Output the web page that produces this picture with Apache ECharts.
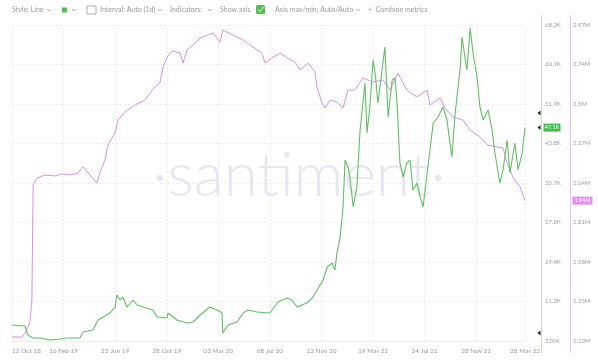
<!DOCTYPE html>
<html><head><meta charset="utf-8">
<script src="https://cdn.jsdelivr.net/npm/echarts@6/dist/echarts.min.js"></script>
<style>html,body{margin:0;padding:0;background:#fff}#c{width:598px;height:362px}</style>
</head><body><div id="c"></div>
<script>
const startDate = '2018-10-12';
const endDate = '2022-03-28';
const tickDays = 127;
const greenTickLabels = ['3204','11.2K','19.4K','27.5K','35.7K','43.8K','51.9K','60.1K','68.2K'];
const purpleTickLabels = ['1.12M','1.35M','1.58M','1.81M','2.04M','2.27M','2.5M','2.74M','2.97M'];
const greenMin = 3204, greenMax = 68204;
const purpleMin = 1118000, purpleMax = 2968000;
const greenMarkerValues = [50100, 3204];

const purpleDates = ['2018-10-12','2018-11-06','2018-11-15','2018-11-25','2018-11-30','2018-12-03','2018-12-13','2019-01-01','2019-01-26','2019-02-12','2019-03-04','2019-03-23','2019-04-05','2019-04-22','2019-05-09','2019-05-17','2019-05-29','2019-06-05','2019-06-23','2019-06-30','2019-07-17','2019-08-11','2019-09-04','2019-09-29','2019-10-11','2019-10-19','2019-10-29','2019-11-10','2019-11-30','2019-12-07','2019-12-17','2020-01-06','2020-01-18','2020-02-19','2020-03-07','2020-03-14','2020-04-08','2020-05-03','2020-05-27','2020-06-18','2020-06-26','2020-07-13','2020-08-02','2020-08-19','2020-09-08','2020-09-20','2020-10-10','2020-10-27','2020-11-01','2020-11-13','2020-11-21','2020-12-03','2020-12-20','2021-01-04','2021-01-16','2021-02-02','2021-02-22','2021-03-19','2021-04-12','2021-04-30','2021-05-19','2021-06-10','2021-07-05','2021-07-30','2021-08-06','2021-08-31','2021-09-12','2021-10-02','2021-10-26','2021-11-13','2021-12-07','2021-12-27','2022-01-18','2022-02-02','2022-02-12','2022-02-26','2022-03-16','2022-03-28'];
const purpleValues = [1.141,1.141,1.171,1.229,1.358,2.031,2.072,2.090,2.084,2.096,2.090,2.101,2.137,2.090,2.043,2.107,2.178,2.265,2.336,2.412,2.459,2.500,2.529,2.605,2.628,2.722,2.781,2.816,2.804,2.745,2.822,2.863,2.892,2.921,2.868,2.939,2.909,2.880,2.839,2.804,2.745,2.775,2.804,2.775,2.751,2.704,2.745,2.693,2.605,2.511,2.482,2.529,2.517,2.482,2.587,2.587,2.658,2.634,2.646,2.587,2.687,2.587,2.546,2.587,2.500,2.541,2.482,2.429,2.412,2.353,2.312,2.265,2.254,2.248,2.160,2.078,2.020,1.940];

const greenDates = ['2018-10-12','2018-11-13','2018-11-20','2018-12-03','2018-12-20','2019-01-14','2019-02-07','2019-02-24','2019-03-28','2019-04-05','2019-04-29','2019-05-12','2019-05-24','2019-06-10','2019-06-23','2019-06-27','2019-07-05','2019-07-12','2019-07-22','2019-08-06','2019-08-16','2019-08-31','2019-09-24','2019-10-04','2019-10-29','2019-10-31','2019-11-22','2019-12-17','2020-01-01','2020-01-18','2020-02-11','2020-02-29','2020-03-12','2020-03-14','2020-03-27','2020-04-18','2020-05-03','2020-05-15','2020-06-06','2020-07-08','2020-07-28','2020-08-19','2020-08-31','2020-09-13','2020-10-07','2020-10-20','2020-11-01','2020-11-16','2020-11-26','2020-12-08','2020-12-15','2020-12-20','2020-12-28','2021-01-04','2021-01-09','2021-01-16','2021-01-21','2021-01-29','2021-02-07','2021-02-15','2021-02-22','2021-02-27','2021-03-04','2021-03-11','2021-03-19','2021-03-24','2021-03-31','2021-04-10','2021-04-17','2021-04-25','2021-05-05','2021-05-12','2021-05-17','2021-05-24','2021-06-01','2021-06-10','2021-06-18','2021-06-25','2021-07-05','2021-07-13','2021-07-20','2021-08-01','2021-08-14','2021-08-26','2021-09-07','2021-09-17','2021-09-24','2021-09-29','2021-10-07','2021-10-19','2021-10-24','2021-10-31','2021-11-05','2021-11-13','2021-11-20','2021-11-30','2021-12-07','2021-12-15','2021-12-27','2022-01-06','2022-01-13','2022-01-25','2022-02-02','2022-02-12','2022-02-19','2022-03-03','2022-03-11','2022-03-21','2022-03-28'];
const greenValues = [6.50,6.29,4.44,3.82,3.82,3.41,3.62,3.82,3.82,5.06,5.47,7.52,8.14,8.96,10.20,12.67,11.64,12.25,10.20,11.64,10.61,10.20,9.58,8.14,7.94,8.96,7.52,6.91,7.11,8.55,10.20,9.58,8.96,4.85,6.50,7.11,8.96,9.58,9.17,8.96,11.23,12.05,11.64,10.20,11.02,12.05,13.69,15.75,18.43,19.25,17.81,21.31,24.60,30.77,40.44,39.00,36.94,30.77,34.88,46.61,52.16,56.27,45.99,51.34,61.00,58.33,52.16,58.95,63.68,49.28,56.89,57.30,52.16,39.82,36.94,39.82,40.44,34.26,35.70,32.83,30.77,39.00,48.05,49.28,51.34,48.66,43.93,41.05,50.10,58.95,65.74,61.62,58.95,67.59,62.45,57.51,51.34,48.66,50.72,46.61,41.88,35.70,38.38,44.55,37.76,43.93,38.38,41.88,47.10];

const DAY = 86400000;
const t0 = Date.parse(startDate + 'T00:00:00Z');
const dayIndex = s => Math.round((Date.parse(s + 'T00:00:00Z') - t0) / DAY);
const MONTHS = ['Jan','Feb','Mar','Apr','May','Jun','Jul','Aug','Sep','Oct','Nov','Dec'];
function fmtDay(d) {
  const dt = new Date(t0 + d * DAY);
  const dd = String(dt.getUTCDate()).padStart(2, '0');
  return dd + ' ' + MONTHS[dt.getUTCMonth()] + ' ' + String(dt.getUTCFullYear()).slice(2);
}
const endDay = dayIndex(endDate);
const greenData = greenDates.map((d, i) => [dayIndex(d), greenValues[i] * 1000]);
const purpleData = purpleDates.map((d, i) => [dayIndex(d), purpleValues[i] * 1e6]);
const greenColor = '#5dc25d', purpleColor = '#d98fe9';
const gInt = (greenMax - greenMin) / 8, pInt = (purpleMax - purpleMin) / 8;

const vGrid = [];
for (let d = 0; d <= endDay; d += tickDays) vGrid.push({xAxis: d});
vGrid.push({xAxis: endDay});
const hGrid = greenTickLabels.map((_, i) => ({yAxis: greenMin + i * gInt}));
const gridStyle = {color: '#ececec', type: [2, 2], width: 1};

const chart = echarts.init(document.getElementById('c'), null, {renderer: 'canvas'});
const txt = {fill: '#9a9a9a', fontSize: 7, fontFamily: 'Lato, sans-serif'};
function chev(x) { return {type: 'polyline', shape: {points: [[x, 9], [x + 2, 11], [x + 4, 9]]}, style: {stroke: '#aaa', lineWidth: 0.8, fill: null}}; }
const option = {
  animation: false,
  backgroundColor: '#fff',
  grid: {left: 12, right: 73, top: 25, bottom: 21, containLabel: false},
  xAxis: {
    type: 'value', min: 0, max: endDay, interval: tickDays,
    axisLine: {show: true, onZero: false, lineStyle: {color: '#eeeeee'}}, axisTick: {show: false},
    splitLine: {show: false},
    axisLabel: {formatter: v => fmtDay(v), color: '#9a9a9a', fontSize: 6.5, fontFamily: 'Lato, sans-serif', margin: 6, showMinLabel: true, showMaxLabel: true, hideOverlap: false, alignMinLabel: 'left'}
  },
  yAxis: [
    {type: 'value', position: 'right', offset: 16, min: greenMin, max: greenMax, interval: gInt,
     axisLine: {show: false}, axisTick: {show: false}, splitLine: {show: false},
     axisLabel: {formatter: v => greenTickLabels[Math.round((v - greenMin) / gInt)], color: '#a0a0a0', fontSize: 6, fontFamily: 'Lato, sans-serif', margin: 4}},
    {type: 'value', position: 'right', offset: 45, min: purpleMin, max: purpleMax, interval: pInt,
     axisLine: {show: false}, axisTick: {show: false}, splitLine: {show: false},
     axisLabel: {formatter: v => purpleTickLabels[Math.round((v - purpleMin) / pInt)], color: '#a0a0a0', fontSize: 6, fontFamily: 'Lato, sans-serif', margin: 3}}
  ],
  series: [
    {type: 'line', yAxisIndex: 1, data: purpleData, showSymbol: false, lineStyle: {color: purpleColor, width: 1}, z: 3},
    {type: 'line', yAxisIndex: 0, data: greenData, showSymbol: false, lineStyle: {color: greenColor, width: 1.1}, z: 4,
     markLine: {silent: true, z: 1, symbol: 'none', label: {show: false}, lineStyle: gridStyle, emphasis: {disabled: true}, animation: false,
       data: vGrid.concat(hGrid)}}
  ],
  graphic: [
    {type: 'text', left: 'center', top: 145, z: 1, style: {text: '\u00B7santiment\u00B7', fontSize: 62, fontFamily: 'Lato, sans-serif', fontWeight: 300, fill: '#e6e7f0'}},
    {type: 'text', x: 12, y: 6, style: Object.assign({text: 'Style: Line'}, txt)},
    chev(47),
    {type: 'rect', shape: {x: 62, y: 7.5, width: 5, height: 5}, style: {fill: '#4fbf4f'}},
    chev(72),
    {type: 'rect', shape: {x: 87, y: 6, width: 9, height: 8}, style: {fill: null, stroke: '#999', lineWidth: 0.8}},
    {type: 'text', x: 100, y: 6, style: Object.assign({text: 'Interval: Auto (1d)'}, txt)},
    chev(158),
    {type: 'text', x: 170, y: 6, style: Object.assign({text: 'Indicators:'}, txt)},
    chev(208),
    {type: 'text', x: 220, y: 6, style: Object.assign({text: 'Show axis'}, txt)},
    {type: 'rect', shape: {x: 256, y: 5, width: 9, height: 9, r: 1.5}, style: {fill: '#4fbf4f'}},
    {type: 'polyline', shape: {points: [[258, 9.5], [260, 11.5], [263.5, 7]]}, style: {stroke: '#fff', lineWidth: 1, fill: null}},
    {type: 'text', x: 275, y: 6, style: Object.assign({text: 'Axis max/min: Auto/Auto'}, txt)},
    chev(356),
    {type: 'text', x: 368, y: 6, style: Object.assign({text: '+  Combine metrics'}, txt)}
  ]
};
chart.setOption(option);

const lastG = greenValues[greenValues.length - 1] * 1000;
const lastP = purpleValues[purpleValues.length - 1] * 1e6;
const gy = chart.convertToPixel({yAxisIndex: 0}, lastG);
const py = chart.convertToPixel({yAxisIndex: 1}, lastP);
const gTop = chart.convertToPixel({yAxisIndex: 0}, greenMax);
const gBot = chart.convertToPixel({yAxisIndex: 0}, greenMin);
const axisX = Math.round(chart.convertToPixel({xAxisIndex: 0}, endDay)) + 16.5;
function tri(y) { return {type: 'polygon', z: 11, shape: {points: [[axisX - 4, y], [axisX - 1, y - 2.5], [axisX - 1, y + 2.5]]}, style: {fill: '#222'}}; }
const extra = [
  {type: 'line', z: 5, shape: {x1: axisX, y1: gTop - 10, x2: axisX, y2: gBot + 12}, style: {stroke: '#bfe6bf', lineWidth: 1}},
  {type: 'line', z: 5, shape: {x1: axisX + 29, y1: gTop - 10, x2: axisX + 29, y2: gBot + 12}, style: {stroke: '#eac0f2', lineWidth: 1}},
  {type: 'rect', z: 10, shape: {x: axisX + 2, y: gy - 4, width: 17, height: 8}, style: {fill: '#49bb4c'}},
  {type: 'text', z: 11, x: axisX + 10.5, y: gy, style: {text: (lastG / 1000).toFixed(1) + 'K', fill: '#fff', fontSize: 5.5, fontFamily: 'Lato, sans-serif', align: 'center', verticalAlign: 'middle'}},
  tri(gy),
  {type: 'rect', z: 10, shape: {x: axisX + 31, y: py - 4, width: 20, height: 8}, style: {fill: '#e08ff0'}},
  {type: 'text', z: 11, x: axisX + 41, y: py, style: {text: (lastP / 1e6).toFixed(2) + 'M', fill: '#fff', fontSize: 5.5, fontFamily: 'Lato, sans-serif', align: 'center', verticalAlign: 'middle'}}
].concat(greenMarkerValues.map((v, i) => tri(chart.convertToPixel({yAxisIndex: 0}, v) - (i === 1 ? 8 : 0))));
chart.setOption({graphic: option.graphic.concat(extra)}, {replaceMerge: ['graphic']});
</script></body></html>
